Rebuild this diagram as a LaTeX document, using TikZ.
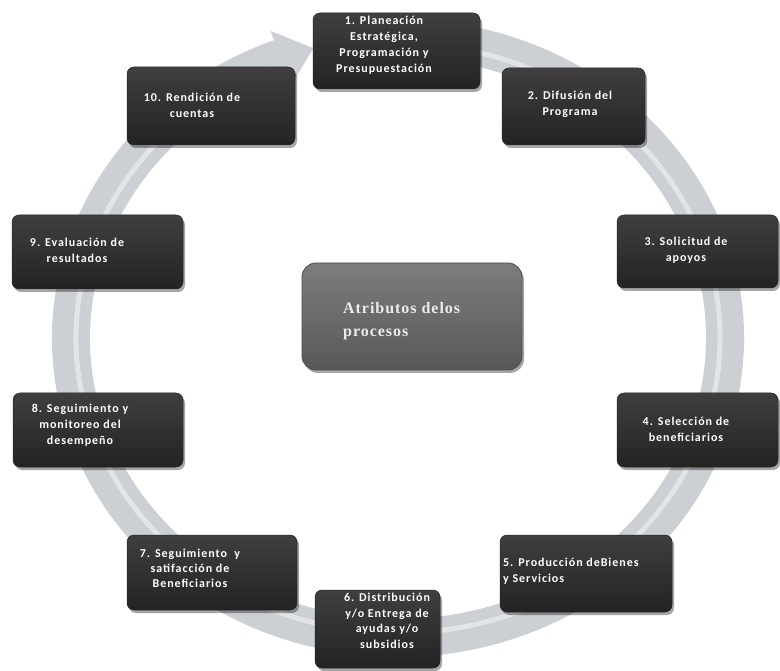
\documentclass[tikz,border=0pt]{standalone}
\usepackage{fontspec}
\setmainfont{Carlito}
\newfontfamily\boxfont[LetterSpace=8]{Carlito}
\newfontfamily\centerfont[LetterSpace=6]{Liberation Serif}
\usetikzlibrary{shadows,calc}
\definecolor{boxtop}{RGB}{64,62,63}
\definecolor{boxbot}{RGB}{36,35,36}
\definecolor{ringcol}{RGB}{204,207,212}
\definecolor{ctop}{RGB}{125,125,125}
\definecolor{cbot}{RGB}{88,88,88}
\definecolor{ctext}{RGB}{236,236,236}
\tikzset{
  stepbox/.style={rectangle, rounded corners=7pt, top color=boxtop, bottom color=boxbot,
    draw=black!85, line width=0.5pt,
    drop shadow={shadow xshift=2pt, shadow yshift=-3pt, opacity=0.35, fill=black},
    inner sep=0pt},
  centerbox/.style={rectangle, rounded corners=14pt, top color=ctop, bottom color=cbot,
    draw=black!70, line width=0.8pt,
    drop shadow={shadow xshift=2pt, shadow yshift=-3pt, opacity=0.35, fill=black},
    inner sep=0pt},
  steptext/.style={text=white, font=\boxfont\bfseries\fontsize{12}{16}\selectfont,
    align=center, inner sep=0pt},
  centertext/.style={text=ctext, font=\centerfont\bfseries\fontsize{16}{23}\selectfont,
    align=left, inner sep=0pt},
}
\begin{document}
\begin{tikzpicture}[x=1pt,y=-1pt]
\useasboundingbox (0,0) rectangle (780,671);
\fill[white] (0,0) rectangle (780,671);
% ring with arrow head
\coordinate (c) at (398,338);
\fill[ringcol]
  ($(c)+(280:346 and 319)$) arc[start angle=280,end angle=609,x radius=346,y radius=319]
  -- ($(c)+(609:356 and 329)$) -- ($(c)+(615:327 and 300)$) -- ($(c)+(609:298 and 271)$)
  -- ($(c)+(609:308 and 281)$) arc[start angle=609,end angle=280,x radius=308,y radius=281]
  -- cycle;
\draw[white, opacity=0.45, line width=5pt]
  ($(c)+(280:322 and 295)$) arc[start angle=280,end angle=606,x radius=322,y radius=295];
% boxes
\node[stepbox, minimum width=167pt, minimum height=76pt] (b1) at (396.5,51) {};
\node[stepbox, minimum width=143pt, minimum height=77pt] (b2) at (573.5,106.5) {};
\node[stepbox, minimum width=161pt, minimum height=73pt] (b3) at (697.5,251.5) {};
\node[stepbox, minimum width=161pt, minimum height=74pt] (b4) at (697.5,430) {};
\node[stepbox, minimum width=172pt, minimum height=77pt] (b5) at (586,573.5) {};
\node[stepbox, minimum width=125pt, minimum height=78pt] (b6) at (377.5,629) {};
\node[stepbox, minimum width=170pt, minimum height=75pt] (b7) at (212,572.5) {};
\node[stepbox, minimum width=170pt, minimum height=74pt] (b8) at (98,430) {};
\node[stepbox, minimum width=171pt, minimum height=74pt] (b9) at (97.5,252) {};
\node[stepbox, minimum width=168pt, minimum height=78pt] (b10) at (211,106) {};
\node[centerbox, minimum width=220pt, minimum height=107pt] (bc) at (412,316.5) {};
% texts
\node[steptext] (t1) at (384,45) {1. Planeación\\Estratégica,\\Programación y\\Presupuestación};
\node[steptext] (t2) at (570,104) {2. Difusión del\\Programa};
\node[steptext] (t3) at (686,250) {3. Solicitud de\\apoyos};
\node[steptext] (t4) at (686,429) {4. Selección de\\beneficiarios};
\node[steptext, align=left, anchor=west] (t5) at (503,571) {5. Producción deBienes\\y Servicios};
\node[steptext, font=\boxfont\bfseries\fontsize{12}{15.6}\selectfont] (t6) at (387,621) {6. Distribución\\y/o Entrega de\\ayudas y/o\\subsidios};
\node[steptext, font=\boxfont\bfseries\fontsize{12}{15}\selectfont] (t7) at (190,568) {7. Seguimiento~ y\\satifacción de\\Beneficiarios};
\node[steptext] (t8) at (80,425) {8. Seguimiento y\\monitoreo del\\desempeño};
\node[steptext] (t9) at (77,250) {9. Evaluación de\\resultados};
\node[steptext] (t10) at (192,105) {10. Rendición de\\cuentas};
\node[centertext, anchor=west] (tc) at (343,321) {Atributos delos\\procesos};
\end{tikzpicture}
\end{document}
